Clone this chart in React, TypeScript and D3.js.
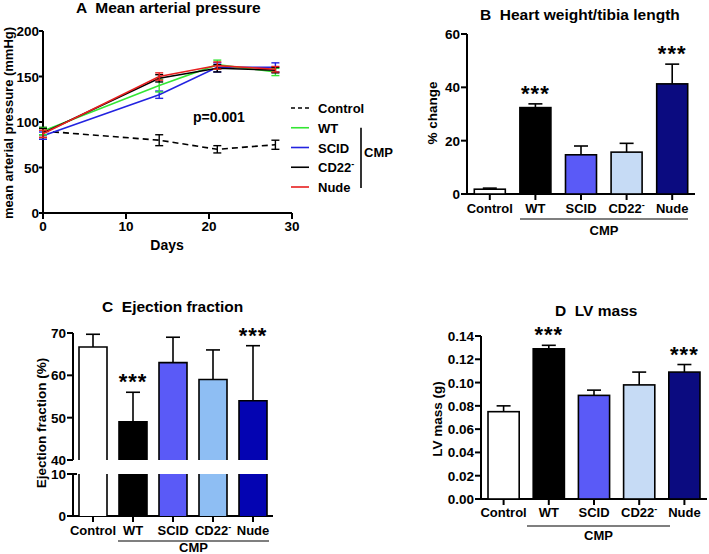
import React from 'react';
import * as d3 from 'd3';

// ---------- Data ----------
const days = [0, 14, 21, 28];
const mapControl = [90, 80, 70, 75];
const mapControlErr = [4, 6, 4, 5];
const mapWT = [90, 140, 163, 155];
const mapWTErr = [4, 7, 5, 4];
const mapSCID = [85, 130, 160, 160];
const mapSCIDErr = [4, 4, 5, 5];
const mapCD22 = [88, 148, 159, 157];
const mapCD22Err = [5, 4, 4, 3];
const mapNude = [87, 150, 162, 158];
const mapNudeErr = [4, 4, 4, 3];
const mapXTicks = [0, 10, 20, 30];
const mapYTicks = [0, 50, 100, 150, 200];

const groups = ['Control', 'WT', 'SCID', 'CD22', 'Nude'];
const hwtl = [1.8, 32.4, 14.7, 15.7, 41.3];
const hwtlErr = [0.4, 1.4, 3.3, 3.3, 7.4];
const hwtlTicks = [0, 20, 40, 60];
const ef = [66.7, 49, 63, 59, 54];
const efErr = [3, 7, 6, 7, 13];
const efUpperTicks = [40, 50, 60, 70];
const efLowerTicks = [0, 10];
const lvm = [0.075, 0.129, 0.089, 0.098, 0.109];
const lvmErr = [0.005, 0.003, 0.0045, 0.011, 0.0065];
const lvmTicks = [0, 0.02, 0.04, 0.06, 0.08, 0.1, 0.12, 0.14];
const significant = [false, true, false, false, true];

const colorsBD = ['#ffffff', '#000000', '#5a5af7', '#c6dbf5', '#0b0b80'];
const colorsC = ['#ffffff', '#000000', '#5a5af7', '#8ebef3', '#0404b2'];

const FONT = '"Liberation Sans", Arial, Helvetica, sans-serif';
const TICK = 13.5;

function GroupLabel({ name, x, y }: { name: string; x: number; y: number }) {
  if (name === 'CD22') {
    return (
      <text x={x} y={y} textAnchor="middle" fontSize={13} fontWeight="bold">
        CD22<tspan fontSize={9} dy={-5}>-</tspan>
      </text>
    );
  }
  return (
    <text x={x} y={y} textAnchor="middle" fontSize={13} fontWeight="bold">
      {name}
    </text>
  );
}

function Title({ x, y, text }: { x: number; y: number; text: string }) {
  return (
    <text x={x} y={y} fontSize={15.5} fontWeight="bold" style={{ whiteSpace: 'pre' }}>
      {text}
    </text>
  );
}

function PanelA() {
  const x = d3.scaleLinear().domain([0, 30]).range([43, 292]);
  const y = d3.scaleLinear().domain([0, 200]).range([213, 31]);
  const series = [
    { name: 'Control', vals: mapControl, errs: mapControlErr, color: '#000000', dash: '6,4' },
    { name: 'SCID', vals: mapSCID, errs: mapSCIDErr, color: '#2323e0', dash: '' },
    { name: 'WT', vals: mapWT, errs: mapWTErr, color: '#33e633', dash: '' },
    { name: 'CD22', vals: mapCD22, errs: mapCD22Err, color: '#000000', dash: '' },
    { name: 'Nude', vals: mapNude, errs: mapNudeErr, color: '#e82020', dash: '' },
  ];
  const legendOrder = ['Control', 'WT', 'SCID', 'CD22', 'Nude'];
  const ly = d3.scalePoint<string>().domain(legendOrder).range([108, 187]);
  const line = d3.line<number>().x((_, i) => x(days[i])).y((d) => y(d));
  return (
    <g>
      <Title x={76} y={13} text="A  Mean arterial pressure" />
      <line x1={43} x2={43} y1={y(200)} y2={y(0)} stroke="#000" strokeWidth={2} />
      <line x1={43} x2={x(30)} y1={y(0)} y2={y(0)} stroke="#000" strokeWidth={2} />
      {mapYTicks.map((t) => (
        <g key={t}>
          <line x1={39} x2={43} y1={y(t)} y2={y(t)} stroke="#000" strokeWidth={2} />
          <text x={39} y={y(t) + 5} textAnchor="end" fontSize={TICK} fontWeight="bold">{t}</text>
        </g>
      ))}
      {mapXTicks.map((t) => (
        <g key={t}>
          <line x1={x(t)} x2={x(t)} y1={y(0)} y2={y(0) + 6} stroke="#000" strokeWidth={2} />
          <text x={x(t)} y={231} textAnchor="middle" fontSize={TICK} fontWeight="bold">{t}</text>
        </g>
      ))}
      <text x={167} y={250} textAnchor="middle" fontSize={14} fontWeight="bold">Days</text>
      <text transform={`translate(13,${y(100) + 1}) rotate(-90)`} textAnchor="middle" fontSize={13} fontWeight="bold">
        mean arterial pressure (mmHg)
      </text>
      {series.map((s) => (
        <g key={s.name}>
          <path d={line(s.vals) || ''} fill="none" stroke={s.color} strokeWidth={1.6} strokeDasharray={s.dash || undefined} />
          {s.vals.map((v, i) => (
            <g key={i} stroke={s.color} strokeWidth={1.4}>
              <line x1={x(days[i])} x2={x(days[i])} y1={y(v - s.errs[i])} y2={y(v + s.errs[i])} />
              <line x1={x(days[i]) - 4} x2={x(days[i]) + 4} y1={y(v - s.errs[i])} y2={y(v - s.errs[i])} />
              <line x1={x(days[i]) - 4} x2={x(days[i]) + 4} y1={y(v + s.errs[i])} y2={y(v + s.errs[i])} />
            </g>
          ))}
        </g>
      ))}
      <text x={193} y={122} fontSize={14} fontWeight="bold">p=0.001</text>
      {series.map((s) => (
        <g key={s.name}>
          <line x1={291} x2={309} y1={ly(s.name)} y2={ly(s.name)} stroke={s.color} strokeWidth={1.6} strokeDasharray={s.dash ? '4,3' : undefined} />
          {s.name === 'CD22' ? (
            <text x={318} y={(ly(s.name) || 0) + 5} fontSize={13} fontWeight="bold">
              CD22<tspan fontSize={9} dy={-5}>-</tspan>
            </text>
          ) : (
            <text x={318} y={(ly(s.name) || 0) + 5} fontSize={13} fontWeight="bold">{s.name}</text>
          )}
        </g>
      ))}
      <line x1={361} x2={361} y1={(ly('WT') || 0)} y2={(ly('Nude') || 0) + 1} stroke="#000" strokeWidth={1.6} />
      <text x={364} y={157} fontSize={13} fontWeight="bold">CMP</text>
    </g>
  );
}

type BarProps = {
  title: string;
  titleX: number;
  titleY: number;
  values: number[];
  errs: number[];
  colors: string[];
  y: d3.ScaleLinear<number, number>;
  ticks: number[];
  fmt: (n: number) => string;
  xRange: [number, number];
  pi: number;
  ylabel: string;
  ylabelX: number;
  ylabelY: number;
  labelY: number;
  cmpLine: [number, number, number];
  cmpY: number;
};

function BarPanel(p: BarProps) {
  const x = d3.scaleBand<string>().domain(groups).range(p.xRange).paddingInner(p.pi).paddingOuter(p.pi / 2);
  const base = p.y.range()[0];
  const top = p.y.range()[1];
  const bw = x.bandwidth();
  return (
    <g>
      <Title x={p.titleX} y={p.titleY} text={p.title} />
      <line x1={p.xRange[0]} x2={p.xRange[0]} y1={top} y2={base} stroke="#000" strokeWidth={2} />
      <line x1={p.xRange[0]} x2={p.xRange[1]} y1={base} y2={base} stroke="#000" strokeWidth={2} />
      {p.ticks.map((t) => (
        <g key={t}>
          <line x1={p.xRange[0] - 6} x2={p.xRange[0]} y1={p.y(t)} y2={p.y(t)} stroke="#000" strokeWidth={2} />
          <text x={p.xRange[0] - 7} y={p.y(t) + 5} textAnchor="end" fontSize={TICK} fontWeight="bold">{p.fmt(t)}</text>
        </g>
      ))}
      <text transform={`translate(${p.ylabelX},${p.ylabelY}) rotate(-90)`} textAnchor="middle" fontSize={13.5} fontWeight="bold">
        {p.ylabel}
      </text>
      {groups.map((g, i) => {
        const bx = x(g) || 0;
        const cx = bx + bw / 2;
        const vy = p.y(p.values[i]);
        const ey = p.y(p.values[i] + p.errs[i]);
        return (
          <g key={g}>
            <line x1={cx} x2={cx} y1={vy} y2={ey} stroke="#000" strokeWidth={1.6} />
            <line x1={cx - 7} x2={cx + 7} y1={ey} y2={ey} stroke="#000" strokeWidth={1.6} />
            <rect x={bx} y={vy} width={bw} height={base - vy} fill={p.colors[i]} stroke="#000" strokeWidth={1.6} />
            <line x1={cx} x2={cx} y1={base} y2={base + 6} stroke="#000" strokeWidth={2} />
            <GroupLabel name={g} x={cx} y={p.labelY} />
            {significant[i] && (
              <text x={cx} y={ey - 3} textAnchor="middle" fontSize={22} fontWeight="bold" letterSpacing={1}>***</text>
            )}
          </g>
        );
      })}
      <line x1={p.cmpLine[0]} x2={p.cmpLine[1]} y1={p.cmpLine[2]} y2={p.cmpLine[2]} stroke="#000" strokeWidth={1.2} />
      <text x={(p.cmpLine[0] + p.cmpLine[1]) / 2} y={p.cmpY} textAnchor="middle" fontSize={13} fontWeight="bold">CMP</text>
    </g>
  );
}

function PanelC() {
  const xr: [number, number] = [73, 273];
  const x = d3.scaleBand<string>().domain(groups).range(xr).paddingInner(0.3).paddingOuter(0.15);
  const yU = d3.scaleLinear().domain([40, 70]).range([460, 333]);
  const yL = d3.scaleLinear().domain([0, 10]).range([516, 474]);
  const bw = x.bandwidth();
  return (
    <g>
      <Title x={102} y={312} text="C  Ejection fraction" />
      <line x1={73} x2={73} y1={yU(70)} y2={yU(40)} stroke="#000" strokeWidth={2} />
      <line x1={73} x2={73} y1={yL(10)} y2={yL(0)} stroke="#000" strokeWidth={2} />
      <line x1={73} x2={xr[1]} y1={yL(0)} y2={yL(0)} stroke="#000" strokeWidth={2} />
      {efUpperTicks.map((t) => (
        <g key={t}>
          <line x1={67} x2={73} y1={yU(t)} y2={yU(t)} stroke="#000" strokeWidth={2} />
          <text x={66} y={yU(t) + 5} textAnchor="end" fontSize={TICK} fontWeight="bold">{t}</text>
        </g>
      ))}
      {efLowerTicks.map((t) => (
        <g key={t}>
          <line x1={67} x2={t === 10 ? 77 : 73} y1={yL(t)} y2={yL(t)} stroke="#000" strokeWidth={2} />
          <text x={66} y={yL(t) + 5} textAnchor="end" fontSize={TICK} fontWeight="bold">{t}</text>
        </g>
      ))}
      <text transform={`translate(46,423) rotate(-90)`} textAnchor="middle" fontSize={13.5} fontWeight="bold">
        Ejection fraction (%)
      </text>
      {groups.map((g, i) => {
        const bx = x(g) || 0;
        const cx = bx + bw / 2;
        const vy = yU(ef[i]);
        const ey = yU(ef[i] + efErr[i]);
        const b = yU(40);
        const lt = yL(10);
        const lb = yL(0);
        return (
          <g key={g}>
            <line x1={cx} x2={cx} y1={vy} y2={ey} stroke="#000" strokeWidth={1.6} />
            <line x1={cx - 7} x2={cx + 7} y1={ey} y2={ey} stroke="#000" strokeWidth={1.6} />
            <rect x={bx} y={vy} width={bw} height={b - vy} fill={colorsC[i]} stroke="none" />
            <path d={`M${bx},${b}V${vy}H${bx + bw}V${b}`} fill="none" stroke="#000" strokeWidth={1.6} />
            <rect x={bx} y={lt} width={bw} height={lb - lt} fill={colorsC[i]} stroke="none" />
            <path d={`M${bx},${lt}V${lb}M${bx + bw},${lt}V${lb}`} fill="none" stroke="#000" strokeWidth={1.6} />
            <line x1={cx} x2={cx} y1={lb} y2={lb + 6} stroke="#000" strokeWidth={2} />
            <GroupLabel name={g} x={cx} y={535} />
            {significant[i] && (
              <text x={cx} y={ey - 3} textAnchor="middle" fontSize={22} fontWeight="bold" letterSpacing={1}>***</text>
            )}
          </g>
        );
      })}
      <line x1={118} x2={269} y1={541} y2={541} stroke="#000" strokeWidth={1.2} />
      <text x={193.5} y={551.5} textAnchor="middle" fontSize={13} fontWeight="bold">CMP</text>
    </g>
  );
}

export default function App() {
  const yB = d3.scaleLinear().domain([0, 60]).range([194, 34]);
  const yD = d3.scaleLinear().domain([0, 0.14]).range([499, 336]);
  return (
    <div style={{ position: 'absolute', left: 0, top: 0 }}>
      <svg width={709} height={554} style={{ display: 'block', fontFamily: FONT, background: '#fff' }}>
        <rect width={709} height={554} fill="#fff" />
        <PanelA />
        <BarPanel
          title="B  Heart weight/tibia length"
          titleX={480}
          titleY={20}
          values={hwtl}
          errs={hwtlErr}
          colors={colorsBD}
          y={yB}
          ticks={hwtlTicks}
          fmt={(n) => String(n)}
          xRange={[467, 695]}
          pi={0.32}
          ylabel="% change"
          ylabelX={437}
          ylabelY={113}
          labelY={213}
          cmpLine={[520, 688, 219]}
          cmpY={235}
        />
        <PanelC />
        <BarPanel
          title="D  LV mass"
          titleX={555}
          titleY={316}
          values={lvm}
          errs={lvmErr}
          colors={colorsBD}
          y={yD}
          ticks={lvmTicks}
          fmt={d3.format('.2f')}
          xRange={[481, 707]}
          pi={0.31}
          ylabel="LV mass (g)"
          ylabelX={442}
          ylabelY={419}
          labelY={517}
          cmpLine={[527, 670, 526]}
          cmpY={540}
        />
      </svg>
    </div>
  );
}
